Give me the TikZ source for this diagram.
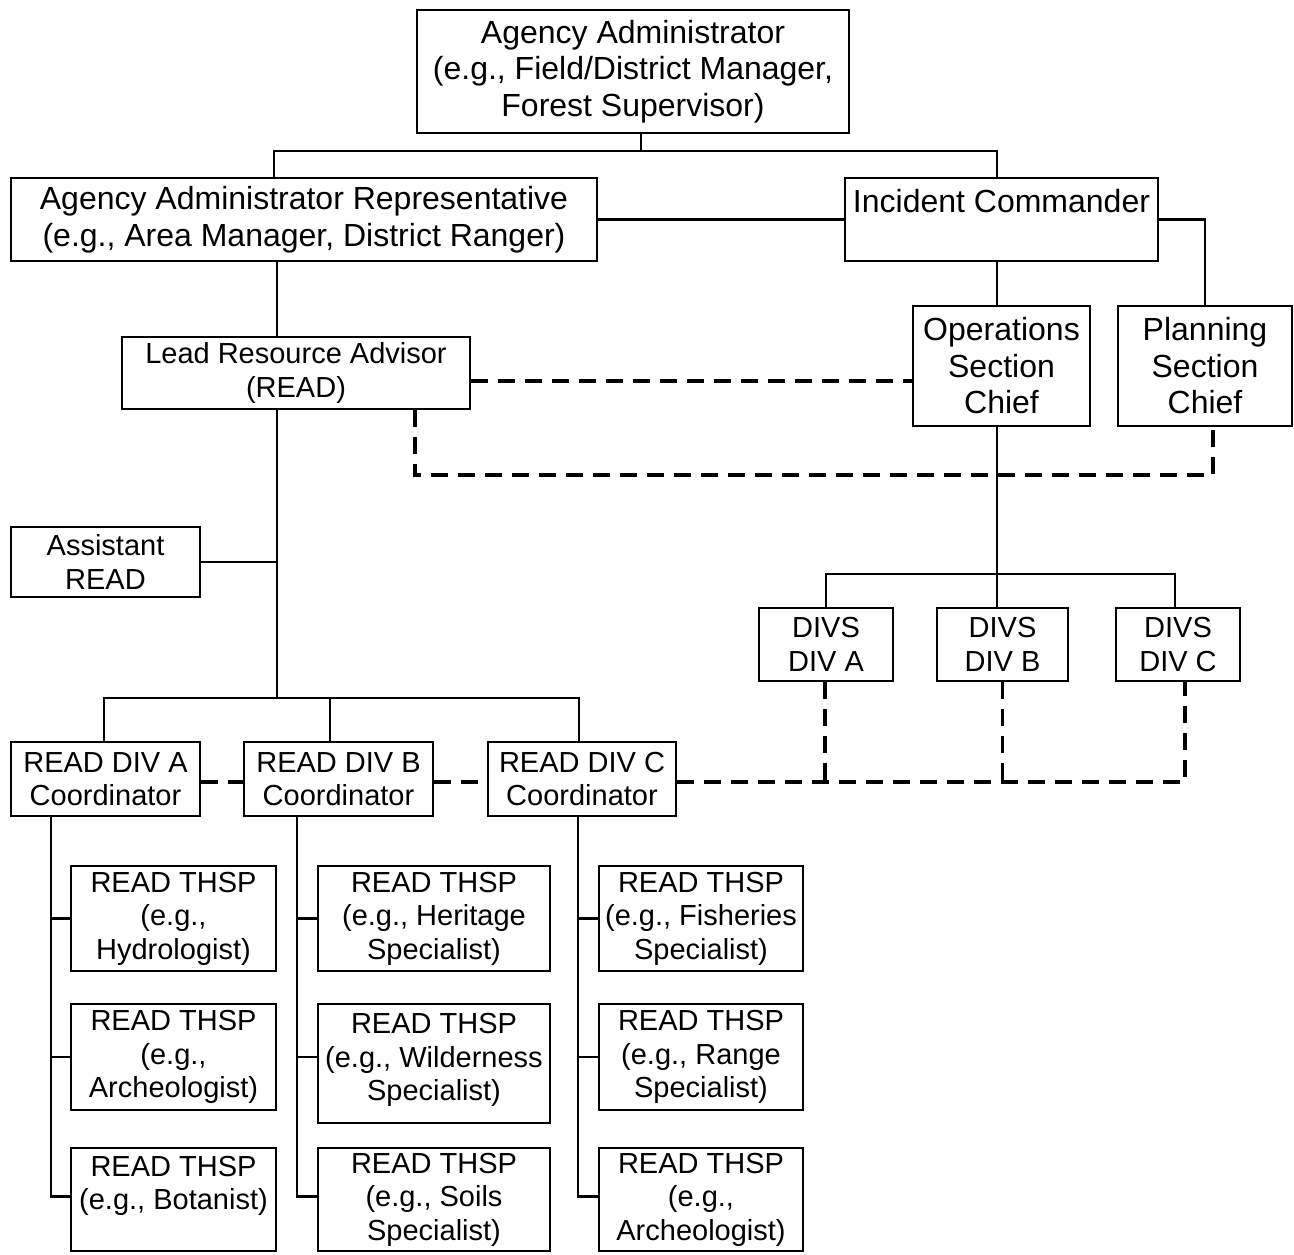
\documentclass[tikz,border=0pt]{standalone}
\usepackage{fontspec}
\setmainfont{Liberation Sans}
\newcommand\smf{\fontsize{29}{33.5}\selectfont}
\newcommand\bgf{\fontsize{32}{36.5}\selectfont}
\tikzset{
  box/.style={draw, line width=2.4pt, rectangle, inner sep=1pt, align=center, font=\smf},
  sh/.style={execute at begin node={\rule{0pt}{0.93em}}},
  big/.style={font=\bgf},
  conn/.style={line width=2.4pt},
  dsh/.style={line width=3.5pt, dash pattern=on 17pt off 10pt},
}
\begin{document}
\begin{tikzpicture}[x=1pt,y=-1pt]
\useasboundingbox (0,0) rectangle (1294,1254);
% top level
\node[box,sh,big,minimum width=432pt,minimum height=123pt] (AA) at (633,71.5)
  {Agency Administrator\\(e.g., Field/District Manager,\\Forest Supervisor)};
\node[box,sh,big,minimum width=586pt,minimum height=83pt] (AAR) at (304,219.5)
  {Agency Administrator Representative\\(e.g., Area Manager, District Ranger)};
\node[box,big,minimum width=313pt,minimum height=83pt] (IC) at (1001.5,219.5)
  {Incident Commander\\\mbox{}};
\node[box,sh,big,minimum width=177pt,minimum height=120pt] (Ops) at (1001.5,366)
  {Operations\\Section\\Chief};
\node[box,sh,big,minimum width=174pt,minimum height=120pt] (Plan) at (1205,366)
  {Planning\\Section\\Chief};
\node[box,sh,minimum width=348pt,minimum height=72pt] (LRA) at (296,373)
  {Lead Resource Advisor\\(READ)};
\node[box,sh,minimum width=189pt,minimum height=70pt] (Asst) at (105.5,562)
  {Assistant\\READ};
% coordinators
\node[box,sh,minimum width=189pt,minimum height=74pt] (RDA) at (105.5,779)
  {READ DIV A\\Coordinator};
\node[box,sh,minimum width=189pt,minimum height=74pt] (RDB) at (338.5,779)
  {READ DIV B\\Coordinator};
\node[box,sh,minimum width=188pt,minimum height=74pt] (RDC) at (582,779)
  {READ DIV C\\Coordinator};
% DIVS
\node[box,minimum width=134pt,minimum height=73pt] (DA) at (826,644.5) {DIVS\\DIV A};
\node[box,minimum width=131pt,minimum height=73pt] (DB) at (1002.5,644.5) {DIVS\\DIV B};
\node[box,minimum width=124pt,minimum height=73pt] (DC) at (1178,644.5) {DIVS\\DIV C};
% THSP column A
\node[box,sh,minimum width=205pt,minimum height=105pt] (A1) at (173.5,918.5)
  {READ THSP\\(e.g.,\\Hydrologist)};
\node[box,sh,minimum width=205pt,minimum height=106pt] (A2) at (173.5,1057)
  {READ THSP\\(e.g.,\\Archeologist)};
\node[box,minimum width=205pt,minimum height=103pt] (A3) at (173.5,1199.5)
  {READ THSP\\(e.g., Botanist)\\\mbox{}};
% column B
\node[box,sh,minimum width=232pt,minimum height=105pt] (B1) at (434,918.5)
  {READ THSP\\(e.g., Heritage\\Specialist)};
\node[box,minimum width=232pt,minimum height=119pt] (B2) at (434,1063.5)
  {READ THSP\\(e.g., Wilderness\\Specialist)\rule[-13pt]{0pt}{13pt}};
\node[box,sh,minimum width=232pt,minimum height=103pt] (B3) at (434,1199.5)
  {READ THSP\\(e.g., Soils\\Specialist)};
% column C
\node[box,sh,minimum width=204pt,minimum height=105pt] (C1) at (701,918.5)
  {READ THSP\\(e.g., Fisheries\\Specialist)};
\node[box,sh,minimum width=204pt,minimum height=106pt] (C2) at (701,1057)
  {READ THSP\\(e.g., Range\\Specialist)};
\node[box,sh,minimum width=204pt,minimum height=103pt] (C3) at (701,1199.5)
  {READ THSP\\(e.g.,\\Archeologist)};

% solid connectors
\draw[conn] ([xshift=8pt]AA.south) -- ++(0,17) coordinate (b1);
\draw[conn] ([xshift=-30pt]AAR.north) |- (b1) -| ([xshift=-4.5pt]IC.north);
\draw[conn] (AAR.east) -- (AAR.east -| IC.west);
\draw[conn] (IC.east) -| (Plan.north);
\draw[conn] ([xshift=-4.5pt]IC.south) -- ([xshift=-4.5pt]Ops.north);
\coordinate (divbus) at (997,574);
\draw[conn] ([xshift=-4.5pt]Ops.south) -- (divbus) -- (divbus |- DB.north);
\draw[conn] (DA.north) |- (divbus);
\draw[conn] ([xshift=-3pt]DC.north) |- (divbus);
\draw[conn] ([xshift=-27pt]AAR.south) -- ([xshift=-19pt]LRA.north);
\coordinate (rbus) at (277,698);
\draw[conn] ([xshift=-19pt]LRA.south) -- (rbus);
\draw[conn] (Asst.east) -- (Asst.east -| rbus);
\draw[conn] ([xshift=-1.5pt]RDA.north) |- (rbus);
\draw[conn] (rbus) -| ([xshift=-8.5pt]RDB.north);
\draw[conn] (rbus) -| ([xshift=-3pt]RDC.north);
% trunks
\coordinate (tA) at ([xshift=-54.5pt]RDA.south);
\coordinate (tB) at ([xshift=-41.5pt]RDB.south);
\coordinate (tC) at ([xshift=-4pt]RDC.south);
\draw[conn] (tA) |- ([yshift=3pt]A3.west);
\draw[conn] (A1.west) -- (A1.west -| tA);
\draw[conn] (A2.west) -- (A2.west -| tA);
\draw[conn] (tB) |- ([yshift=3pt]B3.west);
\draw[conn] (B1.west) -- (B1.west -| tB);
\draw[conn] (B2.west |- A2.west) -- (tB |- A2.west);
\draw[conn] (tC) |- ([yshift=3pt]C3.west);
\draw[conn] (C1.west) -- (C1.west -| tC);
\draw[conn] (C2.west) -- (C2.west -| tC);

% dashed connectors
\draw[dsh] ([yshift=-8pt]LRA.east) -- ([yshift=-8pt]LRA.east -| Ops.west);
\draw[dsh] ([xshift=119pt]LRA.south) -- ++(0,65) -| ([xshift=8pt]Plan.south);
\draw[dsh] ([yshift=-3pt]RDA.east) -- ([yshift=-3pt]RDB.west);
\draw[dsh] ([yshift=-3pt]RDB.east) -- ([yshift=-3pt]RDC.west);
\draw[dsh] ([yshift=-3pt]RDC.east) -| ([xshift=7pt]DC.south);
\draw[dsh] ([xshift=-1pt]DA.south) -- ([xshift=-1pt,yshift=-3pt]DA.south |- RDC.east);
\draw[dsh] (DB.south) -- ([yshift=-3pt]DB.south |- RDC.east);
\end{tikzpicture}
\end{document}
